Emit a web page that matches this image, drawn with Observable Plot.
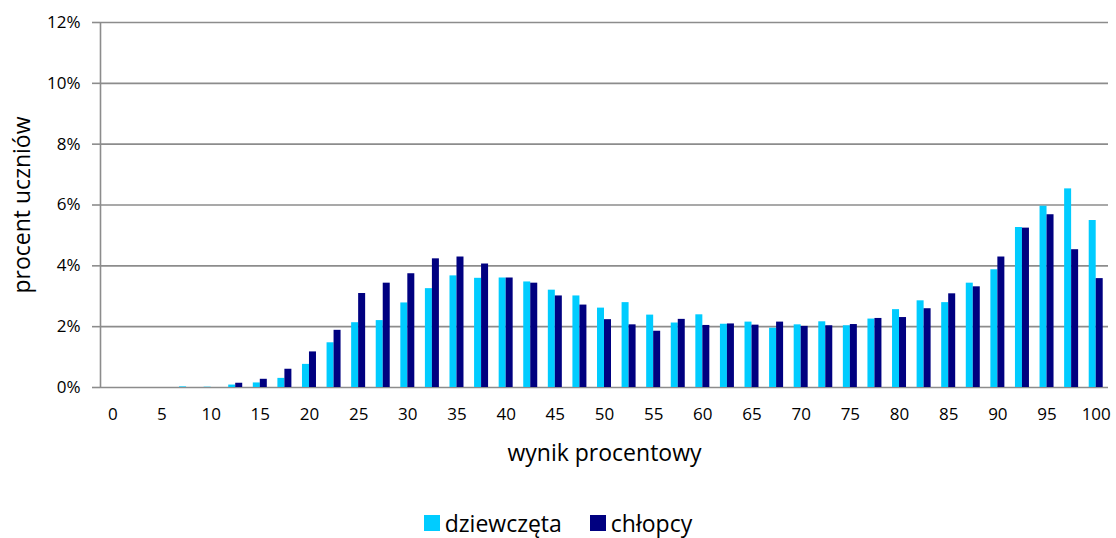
<!DOCTYPE html>
<html>
<head>
<meta charset="utf-8">
<script src="https://cdn.jsdelivr.net/npm/d3@7"></script>
<script src="https://cdn.jsdelivr.net/npm/@observablehq/plot@0.6"></script>
<style>
  html, body { margin: 0; padding: 0; background: #fff; }
  body { width: 1116px; height: 538px; overflow: hidden; font-family: "Open Sans", sans-serif; }
  #chart svg { display: block; }
  #legend { display: flex; justify-content: center; align-items: center; height: 36px; font-size: 23px; color: #000; line-height: 1; }
  .item { display: flex; align-items: center; }
  .item + .item { margin-left: 28px; }
  .sw { width: 16px; height: 16px; margin-right: 5px; }
</style>
</head>
<body>
<div id="chart"></div>
<div id="legend"></div>
<script>
const categories = [0, 2.5, 5, 7.5, 10, 12.5, 15, 17.5, 20, 22.5, 25, 27.5, 30, 32.5, 35, 37.5, 40, 42.5, 45, 47.5, 50, 52.5, 55, 57.5, 60, 62.5, 65, 67.5, 70, 72.5, 75, 77.5, 80, 82.5, 85, 87.5, 90, 92.5, 95, 97.5, 100];
const girls = [0, 0, 0, 0.02, 0.01, 0.08, 0.15, 0.30, 0.76, 1.47, 2.13, 2.20, 2.78, 3.25, 3.67, 3.59, 3.60, 3.47, 3.20, 3.01, 2.61, 2.79, 2.38, 2.12, 2.39, 2.08, 2.15, 1.95, 2.06, 2.16, 2.03, 2.25, 2.56, 2.85, 2.79, 3.43, 3.87, 5.26, 5.96, 6.53, 5.49];
const boys = [0, 0, 0, 0, 0, 0.14, 0.27, 0.60, 1.17, 1.88, 3.09, 3.43, 3.74, 4.23, 4.29, 4.06, 3.60, 3.43, 3.01, 2.71, 2.23, 2.06, 1.85, 2.24, 2.04, 2.09, 2.05, 2.15, 2.01, 2.03, 2.07, 2.27, 2.30, 2.59, 3.08, 3.31, 4.29, 5.24, 5.68, 4.53, 3.58];
const seriesNames = ["dziewczęta", "chłopcy"];
const seriesColors = ["#00CCFF", "#000080"];
const yTicks = [0, 2, 4, 6, 8, 10, 12];
const xLabelTicks = [0, 5, 10, 15, 20, 25, 30, 35, 40, 45, 50, 55, 60, 65, 70, 75, 80, 85, 90, 95, 100];

const girlsRows = categories.map((c, i) => ({cat: c, value: girls[i]}));
const boysRows = categories.map((c, i) => ({cat: c, value: boys[i]}));

const W = 1116, H = 505, mL = 100, mR = 8, mT = 22, mB = H - 387;
const bw = (W - mL - mR) / categories.length;
const barW = 7;
const half = bw / 2;

const font = '"Open Sans", sans-serif';
const gridColor = "#8c8c8c";

const chart = Plot.plot({
  width: W,
  height: H,
  marginLeft: mL,
  marginRight: mR,
  marginTop: mT,
  marginBottom: mB,
  style: { fontFamily: font, fontSize: "17px", color: "#000", background: "#fff" },
  x: { type: "band", domain: categories, padding: 0, round: false },
  y: { domain: [0, 12] },
  marks: [
    Plot.ruleY(yTicks, { stroke: gridColor, strokeWidth: 1.6 }),
    Plot.ruleX([categories[0]], { dx: -half, stroke: gridColor, strokeWidth: 1.6 }),
    Plot.barY(girlsRows, { x: "cat", y: "value", fill: seriesColors[0], insetLeft: half - barW, insetRight: half }),
    Plot.barY(boysRows, { x: "cat", y: "value", fill: seriesColors[1], insetLeft: half, insetRight: half - barW }),
    Plot.axisY(yTicks, { tickSize: 8, tickPadding: 12, stroke: gridColor, strokeWidth: 1.6, tickFormat: d => d + "%", label: null, fontSize: 17 }),
    Plot.axisX(xLabelTicks, { tickSize: 0, tickPadding: 20, label: null, fontSize: 17 }),
    Plot.text(["wynik procentowy"], { frameAnchor: "bottom", dy: 66, lineAnchor: "middle", textAnchor: "middle", fontSize: 23, fill: "#000" }),
    Plot.text(["procent uczniów"], { frameAnchor: "left", dx: -78, rotate: -90, lineAnchor: "middle", textAnchor: "middle", fontSize: 23, fill: "#000" })
  ]
});
document.getElementById("chart").appendChild(chart);

const legend = document.getElementById("legend");
seriesNames.forEach((name, i) => {
  const item = document.createElement("div");
  item.className = "item";
  const sw = document.createElement("div");
  sw.className = "sw";
  sw.style.background = seriesColors[i];
  const label = document.createElement("span");
  label.textContent = name;
  item.appendChild(sw);
  item.appendChild(label);
  legend.appendChild(item);
});
</script>
</body>
</html>
